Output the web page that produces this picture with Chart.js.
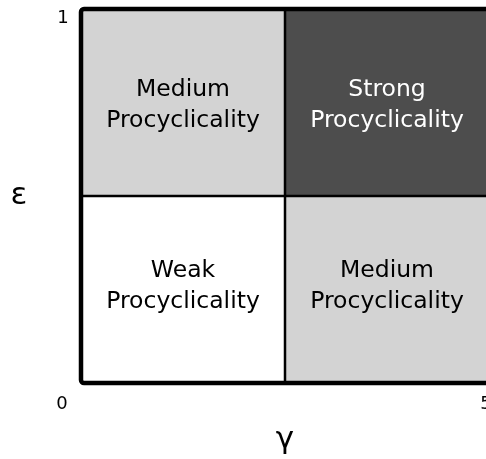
<!DOCTYPE html>
<html>
<head>
<meta charset="utf-8">
<script src="https://cdn.jsdelivr.net/npm/chart.js@4.4.0/dist/chart.umd.min.js"></script>
<style>
    html, body { margin: 0; padding: 0; background: #fff; overflow: hidden; }
    #wrap { width: 510px; height: 459px; }
</style>
</head>
<body>
<div id="wrap"><canvas id="quadChart" width="510" height="459"></canvas></div>
<script>
// axis ranges and split values
const gammaRange = [0, 5];
const epsRange = [0, 1];
const gammaSplit = 2.5;
const epsSplit = 0.5;

// tick labels shown at the corners
const tickLabels = ['0', '1', '5'];
const axisTitles = ['γ', 'ε'];

// cells: bottom-left, top-left, bottom-right, top-right
const cellLevels = ['Weak', 'Medium', 'Medium', 'Strong'];
const cellCaption = 'Procyclicality';

// fill colours per level
const levelFill = { Weak: '#ffffff', Medium: '#d3d3d3', Strong: '#4d4d4d' };
const levelText = { Weak: '#000000', Medium: '#000000', Strong: '#ffffff' };

const FONT = '"DejaVu Sans", sans-serif';

const quadrantPlugin = {
    id: 'quadrants',
    beforeDatasetsDraw(chart) {
        const ctx = chart.ctx;
        const x = chart.scales.x;
        const y = chart.scales.y;

        const xEdges = [gammaRange[0], gammaSplit, gammaRange[1]];
        const yEdges = [epsRange[0], epsSplit, epsRange[1]];

        // cells
        let k = 0;
        for (let i = 0; i < 2; i++) {
            for (let j = 0; j < 2; j++) {
                const level = cellLevels[k++];
                const x0 = x.getPixelForValue(xEdges[i]);
                const x1 = x.getPixelForValue(xEdges[i + 1]);
                const y0 = y.getPixelForValue(yEdges[j + 1]);
                const y1 = y.getPixelForValue(yEdges[j]);
                ctx.save();
                ctx.fillStyle = levelFill[level];
                ctx.fillRect(x0, y0, x1 - x0, y1 - y0);

                // two line label, bottom row sits a little higher
                const cx = (x0 + x1) / 2;
                const cy = (y0 + y1) / 2 + (j === 0 ? -4 : 2);
                ctx.fillStyle = levelText[level];
                ctx.font = '23.5px ' + FONT;
                ctx.textAlign = 'center';
                ctx.textBaseline = 'middle';
                ctx.fillText(level, cx, cy - 15);
                ctx.fillText(cellCaption, cx, cy + 16);
                ctx.restore();
            }
        }

        // divider lines
        const xs = x.getPixelForValue(gammaSplit);
        const ys = y.getPixelForValue(epsSplit);
        ctx.save();
        ctx.strokeStyle = '#000';
        ctx.lineWidth = 2.5;
        ctx.beginPath();
        ctx.moveTo(xs, y.getPixelForValue(epsRange[0]));
        ctx.lineTo(xs, y.getPixelForValue(epsRange[1]));
        ctx.moveTo(x.getPixelForValue(gammaRange[0]), ys);
        ctx.lineTo(x.getPixelForValue(gammaRange[1]), ys);
        ctx.stroke();

        // outer frame, slightly rounded corners
        const L = x.getPixelForValue(gammaRange[0]);
        const R = x.getPixelForValue(gammaRange[1]);
        const T = y.getPixelForValue(epsRange[1]);
        const B = y.getPixelForValue(epsRange[0]);
        ctx.lineWidth = 4.5;
        ctx.lineJoin = 'round';
        ctx.beginPath();
        ctx.roundRect(L, T, R - L, B - T, 3);
        ctx.stroke();

        // corner ticks
        ctx.fillStyle = '#000';
        ctx.font = '18px ' + FONT;
        ctx.textAlign = 'center';
        ctx.textBaseline = 'middle';
        ctx.fillText(tickLabels[0], L - 19, B + 21);
        ctx.fillText(tickLabels[1], L - 18, T + 9);
        ctx.fillText(tickLabels[2], R - 3, B + 21);

        // axis titles
        ctx.font = '31px ' + FONT;
        ctx.fillText(axisTitles[0], (L + R) / 2, B + 57);
        ctx.fillText(axisTitles[1], L - 62, (T + B) / 2);
        ctx.restore();
    }
};

new Chart(document.getElementById('quadChart'), {
    type: 'scatter',
    data: { datasets: [{ data: [] }] },
    options: {
        responsive: false,
        animation: false,
        layout: { padding: { left: 81, top: 9, right: 21, bottom: 76 } },
        plugins: { legend: { display: false }, tooltip: { enabled: false } },
        scales: {
            x: { type: 'linear', min: gammaRange[0], max: gammaRange[1], display: false },
            y: { type: 'linear', min: epsRange[0], max: epsRange[1], display: false }
        }
    },
    plugins: [quadrantPlugin]
});
</script>
</body>
</html>
